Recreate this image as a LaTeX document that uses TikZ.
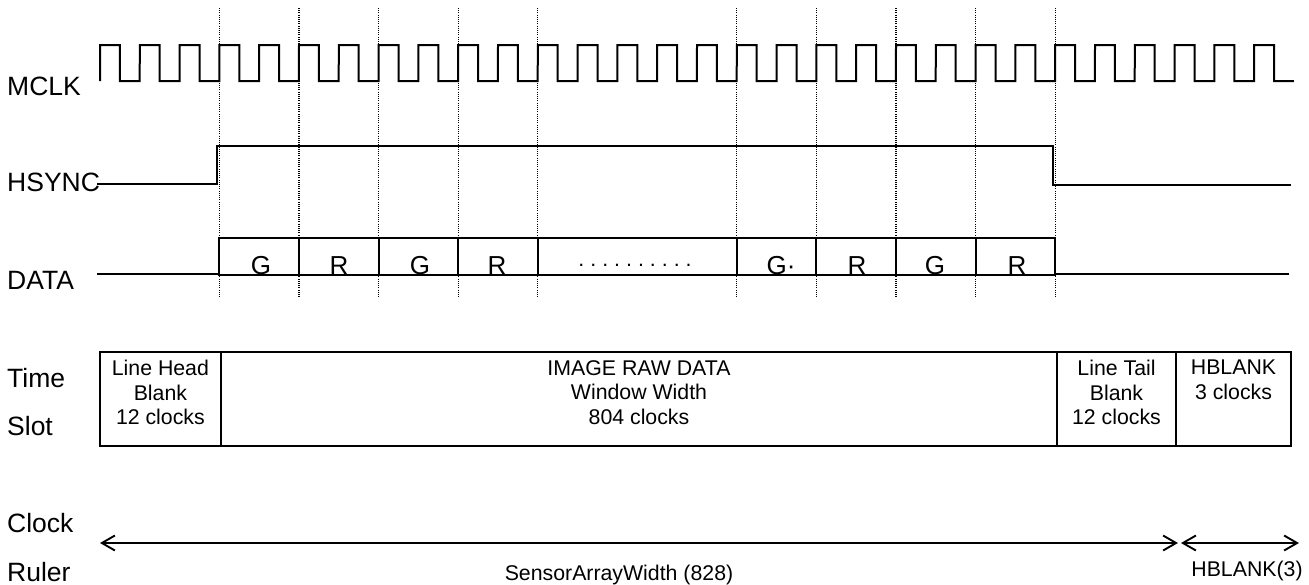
\documentclass[tikz,border=0pt]{standalone}
\usepackage{fontspec}
\setmainfont{Liberation Sans}
\usetikzlibrary{arrows.meta}
\begin{document}
\begin{tikzpicture}[x=1pt,y=-1pt,
  wave/.style={line width=2pt, line join=miter},
  guide/.style={line width=1.1pt, dash pattern=on 1pt off 1.2pt},
  sig/.style={font=\fontsize{26.5}{30}\selectfont, anchor=base west, inner sep=0pt},
  bit/.style={font=\fontsize{26}{30}\selectfont, anchor=base, inner sep=0pt},
  slottext/.style={font=\fontsize{21.3}{24.5}\selectfont, align=center, anchor=north, inner sep=0pt},
  ruler/.style={line width=1.9pt, {Straight Barb[length=13pt,width=15pt]}-{Straight Barb[length=13pt,width=15pt]}},
  note/.style={font=\fontsize{21.3}{25}\selectfont, anchor=base, inner sep=0pt}]
\useasboundingbox (0,0) rectangle (1309,584);

% guide lines
\foreach \k in {3,5,7,9,11,16,18,20,22,24}
  \draw[guide] ({100+39.8*\k},8) -- ({100+39.8*\k},297);

% signal labels
\node[sig] (lmclk) at (7,95) {MCLK};
\node[sig] (lhsync) at (7,191.7) {HSYNC};
\node[sig] (ldata) at (7,289) {DATA};
\node[sig] (ltime) at (7,387) {Time};
\node[sig] (lslot) at (7,435) {Slot};
\node[sig] (lclock) at (7,532) {Clock};
\node[sig] (lruler) at (7,581) {Ruler};

% MCLK
\draw[wave] (100,81) \foreach \k in {0,...,29} {
  -- ({100+39.8*\k},45) -- ({119.9+39.8*\k},45)
  -- ({119.9+39.8*\k},81) -- ({139.7+39.8*\k},81) };

% HSYNC
\draw[wave] (97,184) -- (217,184) -- (217,146) -- (1053,146) -- (1053,185) -- (1291,185);

% DATA
\draw[wave] (97,274) -- (219.4,274);
\draw[wave] (1055.2,274) -- (1289,274);
\foreach \a/\b in {219.4/299, 299/378.6, 378.6/458.2, 458.2/537.8, 537.8/736.8,
                   736.8/816.4, 816.4/896, 896/975.6, 975.6/1055.2}
  \draw[wave] (\a,238) rectangle (\b,275);
\node[bit] (b1) at (261,274) {G};
\node[bit] (b2) at (339,274) {R};
\node[bit] (b3) at (420,274) {G};
\node[bit] (b4) at (497,274) {R};
\node[note] (bdots) at (635,266) {.\kern6pt.\kern6pt.\kern6pt.\kern6pt.\kern6pt.\kern6pt.\kern6pt.\kern6pt.\kern6pt.};
\node[bit] (b5) at (781,274) {G·};
\node[bit] (b6) at (857,274) {R};
\node[bit] (b7) at (935,274) {G};
\node[bit] (b8) at (1017,274) {R};

% Time slot
\draw[wave] (100,352) rectangle (1291,446);
\draw[wave] (220.7,352) -- (220.7,446);
\draw[wave] (1057,352) -- (1057,446);
\draw[wave] (1176,352) -- (1176,446);
\node[slottext] (head) at (160.4,360) {Line Head\\Blank\\12 clocks};
\node[slottext] (image) at (639,360) {IMAGE RAW DATA\\Window Width\\804 clocks};
\node[slottext] (tail) at (1116.5,360) {Line Tail\\Blank\\12 clocks};
\node[slottext] (hblank) at (1233.5,360) {HBLANK\\3 clocks};

% Clock ruler
\coordinate (rl) at (100,543);
\coordinate (rm1) at (1178,543);
\coordinate (rm2) at (1181,543);
\coordinate (rr) at (1299,543);
\draw[ruler] (rl) -- (rm1);
\draw[ruler] (rm2) -- (rr);
\node[note] (sensor) at (619,580) {SensorArrayWidth (828)};
\node[note] (hb3) at (1247,576) {HBLANK(3)};
\end{tikzpicture}
\end{document}
